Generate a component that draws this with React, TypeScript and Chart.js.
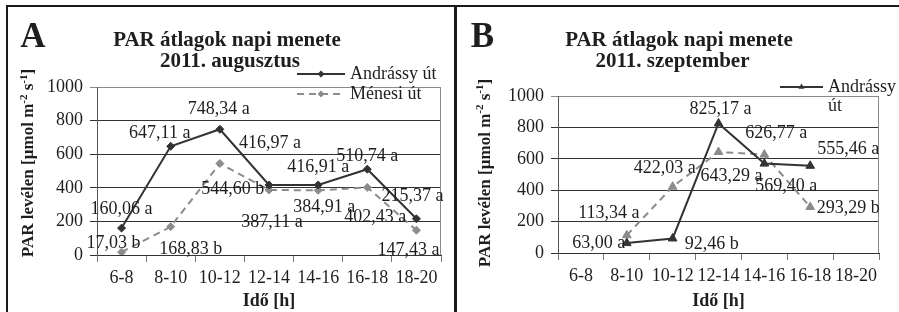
import React, { useEffect, useRef } from 'react';
import { Chart, registerables } from 'chart.js';
Chart.register(...registerables);

const FF = "'Liberation Serif', 'Times New Roman', serif";
const TEXT = '#1e1e1e';
const DARK = '#333333';
const GRAY = '#8c8c8c';

// ---- data ----
const categories = ['6-8', '8-10', '10-12', '12-14', '14-16', '16-18', '18-20'];
const yMin = 0;
const yMax = 1000;
const yStep = 200;
const seriesNames = ['Andrássy út', 'Ménesi út'];
const titleLine1 = 'PAR átlagok napi menete';
const titleA2 = '2011. augusztus';
const titleB2 = '2011. szeptember';
const yAxisTitleParts = ['PAR levélen [µmol m', '-2', ' s', '-1', ']'];
const xAxisTitle = 'Idő [h]';

const augAndrassy = [160.06, 647.11, 748.34, 416.97, 416.91, 510.74, 215.37];
const augMenesi = [17.03, 168.83, 544.6, 387.11, 384.91, 402.43, 147.43];
const augAndrassyLetters = ['a', 'a', 'a', 'a', 'a', 'a', 'a'];
const augMenesiLetters = ['b', 'b', 'b', 'a', 'a', 'a', 'a'];

const sepAndrassy = [null, 63.0, 92.46, 825.17, 569.4, 555.46, null];
const sepMenesi = [null, 113.34, 422.03, 643.29, 626.77, 293.29, null];
const sepAndrassyLetters = [null, 'a', 'b', 'a', 'a', 'a', null];
const sepMenesiLetters = [null, 'a', 'a', 'a', 'a', 'b', null];

// ---- label placement (offsets from the point, px) ----
const augAndrassyOffsets = [[0, -19], [-11, -13], [-1, -20], [1, -42], [0, -18], [0, -13], [-4, -23]];
const augMenesiOffsets = [[-8, -9], [20, 23], [13, 26], [3, 32], [6, 17], [8, 30], [-8, 20]];
const sepAndrassyOffsets = [null, [-28, 0], [39, 6], [2, -14], [22, 23], [38, -17], null];
const sepMenesiOffsets = [null, [-18, -22], [-8, -18], [13, 24], [12, -21], [38, 1], null];

const fmt = (v: number) => v.toFixed(2).replace('.', ',');

function drawMarker(ctx: CanvasRenderingContext2D, style: string, x: number, y: number, r: number, color: string) {
  ctx.save();
  ctx.fillStyle = color;
  ctx.beginPath();
  if (style === 'triangle') {
    ctx.moveTo(x, y - r);
    ctx.lineTo(x + r * 0.866, y + r * 0.5);
    ctx.lineTo(x - r * 0.866, y + r * 0.5);
  } else {
    ctx.moveTo(x, y - r);
    ctx.lineTo(x + r, y);
    ctx.lineTo(x, y + r);
    ctx.lineTo(x - r, y);
  }
  ctx.closePath();
  ctx.fill();
  ctx.restore();
}

function makeDecor(spec: any) {
  return {
    id: 'panelDecor',
    beforeDatasetsDraw(chart: any) {
      const { ctx, chartArea } = chart;
      ctx.save();
      ctx.strokeStyle = '#8a8a8a';
      ctx.lineWidth = 1;
      ctx.beginPath();
      const rx = Math.round(chartArea.right) - 0.5;
      ctx.moveTo(rx, chartArea.top);
      ctx.lineTo(rx, chartArea.bottom);
      ctx.stroke();
      ctx.restore();
    },
    afterDatasetsDraw(chart: any) {
      const ctx = chart.ctx;
      ctx.save();
      ctx.font = `18px ${FF}`;
      ctx.fillStyle = TEXT;
      ctx.textAlign = 'center';
      ctx.textBaseline = 'middle';
      chart.data.datasets.forEach((ds: any, di: number) => {
        const meta = chart.getDatasetMeta(di);
        const letters = spec.letters[di];
        const offs = spec.offsets[di];
        ds.data.forEach((v: any, i: number) => {
          if (v == null || !offs[i]) return;
          const el = meta.data[i];
          ctx.fillText(`${fmt(v)} ${letters[i]}`, el.x + offs[i][0], el.y + offs[i][1]);
        });
      });
      ctx.restore();
    },
    afterDraw(chart: any) {
      const ctx = chart.ctx;
      ctx.save();
      ctx.fillStyle = TEXT;
      // panel letter
      ctx.font = `bold 35px ${FF}`;
      ctx.textAlign = 'center';
      ctx.textBaseline = 'alphabetic';
      ctx.fillText(spec.letter, spec.letterX, spec.letterY);
      // title
      ctx.font = `bold 21px ${FF}`;
      ctx.fillText(titleLine1, spec.t1x, spec.t1y);
      ctx.fillText(spec.title2, spec.t2x, spec.t2y);
      // y axis title with superscripts
      ctx.save();
      ctx.translate(spec.yTitleX, spec.yTitleY);
      ctx.rotate(-Math.PI / 2);
      const mainF = `bold 17px ${FF}`;
      const supF = `bold 11px ${FF}`;
      const isSup = [false, true, false, true, false];
      let total = 0;
      const widths = yAxisTitleParts.map((t, i) => {
        ctx.font = isSup[i] ? supF : mainF;
        const w = ctx.measureText(t).width;
        total += w;
        return w;
      });
      let x = -total / 2;
      ctx.textAlign = 'left';
      ctx.textBaseline = 'middle';
      yAxisTitleParts.forEach((t, i) => {
        ctx.font = isSup[i] ? supF : mainF;
        ctx.fillText(t, x, isSup[i] ? -5 : 0);
        x += widths[i];
      });
      ctx.restore();
      // legend
      spec.legend.forEach((item: any) => {
        const ds = chart.data.datasets[item.ds];
        ctx.save();
        ctx.strokeStyle = ds.borderColor;
        ctx.lineWidth = 2;
        ctx.setLineDash(ds.borderDash || []);
        ctx.beginPath();
        ctx.moveTo(spec.legX1, item.y);
        ctx.lineTo(spec.legX2, item.y);
        ctx.stroke();
        ctx.restore();
        drawMarker(ctx, spec.pointStyle, (spec.legX1 + spec.legX2) / 2, item.y, 3.5, ds.borderColor);
        ctx.font = `18px ${FF}`;
        ctx.fillStyle = TEXT;
        ctx.textAlign = 'left';
        ctx.textBaseline = 'middle';
        item.lines.forEach((ln: string, k: number) => {
          ctx.fillText(ln, spec.legText, item.y + k * spec.legGap);
        });
      });
      ctx.restore();
    },
  };
}

function buildConfig(spec: any): any {
  return {
    type: 'line',
    data: {
      labels: categories,
      datasets: [
        {
          label: seriesNames[0],
          data: spec.s1,
          borderColor: DARK,
          backgroundColor: DARK,
          borderWidth: 2,
          pointStyle: spec.pointStyle,
          pointRadius: spec.pr,
          pointBackgroundColor: DARK,
          pointBorderColor: DARK,
          pointBorderWidth: 1,
          tension: 0,
          spanGaps: false,
        },
        {
          label: seriesNames[1],
          data: spec.s2,
          borderColor: GRAY,
          backgroundColor: GRAY,
          borderWidth: 2,
          borderDash: [7, 5],
          pointStyle: spec.pointStyle,
          pointRadius: spec.pr,
          pointBackgroundColor: GRAY,
          pointBorderColor: GRAY,
          pointBorderWidth: 1,
          tension: 0,
          spanGaps: false,
        },
      ],
    },
    options: {
      responsive: false,
      animation: false,
      events: [],
      layout: { padding: { left: 0, right: spec.padRight, top: spec.plotTop, bottom: 0 } },
      plugins: { legend: { display: false }, title: { display: false }, tooltip: { enabled: false } },
      scales: {
        x: {
          type: 'category',
          offset: true,
          grid: { offset: true, drawOnChartArea: false, drawTicks: true, tickLength: 7, color: '#777' },
          border: { display: true, color: '#333', width: 1 },
          ticks: { color: TEXT, font: { family: FF, size: 18 }, padding: 5, maxRotation: 0, autoSkip: false },
          title: {
            display: true,
            text: xAxisTitle,
            color: TEXT,
            font: { family: FF, size: 18, weight: 'bold' },
            padding: { top: 0, bottom: 0 },
          },
          afterFit: (s: any) => {
            s.height = 312 - spec.plotBottom;
          },
        },
        y: {
          min: yMin,
          max: yMax,
          ticks: {
            stepSize: yStep,
            color: TEXT,
            font: { family: FF, size: 18 },
            padding: 7,
            callback: (v: any) => String(v),
          },
          grid: {
            color: (c: any) => (c.tick && c.tick.value === yMax ? '#8a8a8a' : '#333'),
            tickLength: 7,
            drawTicks: true,
          },
          border: { display: true, color: '#555' },
          afterFit: (s: any) => {
            s.width = spec.plotLeft;
          },
        },
      },
    },
    plugins: [makeDecor(spec)],
  };
}

const panelA = {
  left: 7, width: 446, plotLeft: 90, padRight: 12, plotTop: 87, plotBottom: 255,
  s1: augAndrassy, s2: augMenesi,
  letters: [augAndrassyLetters, augMenesiLetters],
  offsets: [augAndrassyOffsets, augMenesiOffsets],
  pointStyle: 'rectRot', pr: 4,
  letter: 'A', letterX: 26, letterY: 47,
  title2: titleA2, t1x: 220, t2x: 223, t1y: 46, t2y: 67,
  yTitleX: 22, yTitleY: 163,
  legend: [
    { ds: 0, y: 74, lines: [seriesNames[0]] },
    { ds: 1, y: 94, lines: [seriesNames[1]] },
  ],
  legX1: 290, legX2: 338, legText: 343, legGap: 19,
};

const panelB = {
  left: 456, width: 443, plotLeft: 102, padRight: 20, plotTop: 96, plotBottom: 253,
  s1: sepAndrassy, s2: sepMenesi,
  letters: [sepAndrassyLetters, sepMenesiLetters],
  offsets: [sepAndrassyOffsets, sepMenesiOffsets],
  pointStyle: 'triangle', pr: 5,
  letter: 'B', letterX: 26.5, letterY: 47,
  title2: titleB2, t1x: 223, t2x: 216.5, t1y: 46, t2y: 67,
  yTitleX: 29.5, yTitleY: 173,
  legend: [{ ds: 0, y: 87, lines: seriesNames[0].split(' ') }],
  legX1: 324, legX2: 367, legText: 372, legGap: 19,
};

function Panel({ spec }: { spec: any }) {
  const ref = useRef<HTMLCanvasElement>(null);
  useEffect(() => {
    const chart = new Chart(ref.current as HTMLCanvasElement, buildConfig(spec));
    return () => chart.destroy();
  }, []);
  return (
    <canvas
      ref={ref}
      width={spec.width}
      height={312}
      style={{ position: 'absolute', left: spec.left, top: 0, width: spec.width, height: 312, display: 'block' }}
    />
  );
}

export default function App() {
  const line = (s: React.CSSProperties) => (
    <div style={{ position: 'absolute', background: '#1a1a1a', zIndex: 2, ...s }} />
  );
  return (
    <div style={{ position: 'absolute', left: 0, top: 0, width: 899, height: 312, background: '#fff', overflow: 'hidden' }}>
      <Panel spec={panelA} />
      <Panel spec={panelB} />
      {line({ left: 6, top: 5, width: 893, height: 2 })}
      {line({ left: 6, top: 5, width: 2, height: 307 })}
      {line({ left: 454, top: 5, width: 3, height: 307 })}
    </div>
  );
}
